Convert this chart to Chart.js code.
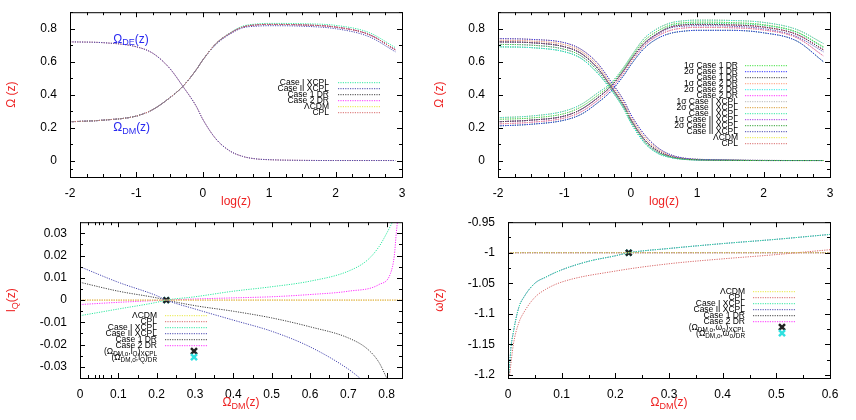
<!DOCTYPE html>
<html><head><meta charset="utf-8">
<script src="https://cdn.jsdelivr.net/npm/chart.js@4.4.1/dist/chart.umd.min.js"></script>
<style>
body{margin:0;background:#fff;width:856px;height:420px;position:relative;overflow:hidden}
.p{position:absolute;width:428px;height:210px}
</style></head><body>
<div class="p" style="left:0;top:0"><canvas id="c1"></canvas></div>
<div class="p" style="left:428px;top:0"><canvas id="c2"></canvas></div>
<div class="p" style="left:0;top:210px"><canvas id="c3"></canvas></div>
<div class="p" style="left:428px;top:210px"><canvas id="c4"></canvas></div>
<script>
// ---- panel 1 / 2: Omega(z) vs log(z)
const logZ = [-2, -1.5, -1, -0.75, -0.5, -0.3, -0.1, 0, 0.2, 0.4, 0.6, 0.8, 1, 1.5, 2, 2.5, 2.9];
const riseBase = [0.235, 0.245, 0.27, 0.31, 0.38, 0.45, 0.55, 0.61, 0.71, 0.77, 0.81, 0.823, 0.826, 0.823, 0.81, 0.765, 0.672];
const riseCaseI = [0.235, 0.245, 0.27, 0.31, 0.38, 0.45, 0.55, 0.61, 0.71, 0.772, 0.815, 0.828, 0.832, 0.83, 0.82, 0.777, 0.685];
const riseCaseII = [0.235, 0.245, 0.27, 0.31, 0.38, 0.45, 0.55, 0.61, 0.705, 0.765, 0.805, 0.815, 0.818, 0.815, 0.8, 0.752, 0.66];
const decayBase = [0.72, 0.715, 0.69, 0.65, 0.56, 0.45, 0.33, 0.25, 0.13, 0.06, 0.025, 0.01, 0.005, 0.001, 0, 0, 0];
const riseHi = [0.26, 0.27, 0.3, 0.34, 0.41, 0.47, 0.57, 0.63, 0.74, 0.8, 0.835, 0.848, 0.852, 0.85, 0.838, 0.795, 0.71];
const riseLo = [0.21, 0.22, 0.245, 0.28, 0.35, 0.42, 0.52, 0.58, 0.68, 0.74, 0.772, 0.785, 0.79, 0.79, 0.775, 0.725, 0.6];
const riseMidHi = [0.25, 0.258, 0.285, 0.325, 0.395, 0.46, 0.56, 0.62, 0.725, 0.785, 0.823, 0.836, 0.84, 0.837, 0.824, 0.78, 0.69];
const riseMidLo = [0.222, 0.232, 0.258, 0.295, 0.365, 0.435, 0.535, 0.595, 0.695, 0.755, 0.79, 0.804, 0.808, 0.806, 0.792, 0.745, 0.635];
const decayHi = [0.74, 0.735, 0.715, 0.675, 0.59, 0.48, 0.36, 0.28, 0.16, 0.08, 0.035, 0.015, 0.008, 0.003, 0.001, 0, 0];
const decayLo = [0.69, 0.685, 0.66, 0.62, 0.53, 0.43, 0.31, 0.23, 0.11, 0.045, 0.018, 0.007, 0.003, 0.001, 0, 0, 0];
const decayMidHi = [0.73, 0.725, 0.703, 0.663, 0.575, 0.465, 0.345, 0.265, 0.145, 0.07, 0.03, 0.012, 0.006, 0.002, 0, 0, 0];
const decayMidLo = [0.705, 0.7, 0.675, 0.635, 0.545, 0.44, 0.32, 0.24, 0.12, 0.052, 0.021, 0.008, 0.004, 0.001, 0, 0, 0];

// ---- panel 3: l_Q vs Omega_DM
const lqXcplIx = [0, 0.1, 0.2, 0.225, 0.3, 0.4, 0.5, 0.6, 0.7, 0.75, 0.78, 0.8, 0.815];
const lqXcplI = [-0.007, -0.004, -0.001, 0, 0.0015, 0.004, 0.006, 0.0085, 0.013, 0.018, 0.024, 0.03, 0.035];
const lqXcplIIx = [0, 0.1, 0.2, 0.225, 0.3, 0.4, 0.5, 0.6, 0.7, 0.73];
const lqXcplII = [0.015, 0.008, 0.002, 0, -0.004, -0.009, -0.014, -0.021, -0.031, -0.035];
const lqDr1x = [0, 0.1, 0.2, 0.225, 0.3, 0.4, 0.5, 0.6, 0.7, 0.75, 0.78, 0.8];
const lqDr1 = [0.008, 0.004, 0.001, 0, -0.0025, -0.005, -0.008, -0.012, -0.017, -0.022, -0.028, -0.035];
const lqDr2x = [0, 0.1, 0.225, 0.3, 0.4, 0.5, 0.6, 0.7, 0.78, 0.81, 0.82, 0.825, 0.828];
const lqDr2 = [-0.002, -0.001, 0, 0.0005, 0.001, 0.0015, 0.0025, 0.004, 0.007, 0.012, 0.02, 0.03, 0.035];
const lqFlatx = [0, 0.84];
const lqFlat = [0, 0];

// ---- panel 4: w vs Omega_DM
const wXcplx = [0.002, 0.005, 0.01, 0.02, 0.03, 0.05, 0.07, 0.1, 0.15, 0.2, 0.225, 0.3, 0.4, 0.5, 0.6];
const wXcpl = [-1.2, -1.16, -1.13, -1.09, -1.072, -1.05, -1.04, -1.028, -1.014, -1.005, -1.0, -0.993, -0.985, -0.978, -0.97];
const wCplx = [0.003, 0.01, 0.02, 0.03, 0.05, 0.07, 0.1, 0.2, 0.3, 0.4, 0.5, 0.6];
const wCpl = [-1.2, -1.15, -1.115, -1.097, -1.073, -1.06, -1.048, -1.03, -1.018, -1.01, -1.003, -0.995];
const wFlatx = [0, 0.6];
const wFlat = [-1, -1];

const presentPoint = { x: 0.225, lq: 0, w: -1 };

const C = {
  lcdm: '#e8e840', cpl: '#d86a6a', xI: '#30e8a0', xII: '#4848b0', dr1: '#404040', dr2: '#ff30ff',
  s1dr1: '#40e040', s2dr1: '#3030ff', s1dr2: '#ff9a78', s2dr2: '#30eaea', s1xI: '#b8b8b8',
  s2xI: '#d89a30', s1xII: '#a030e0', s2xII: '#30a030'
};

function pts(xs, ys) { return xs.map((x, i) => ({ x, y: ys[i] })); }
function line(xs, ys, color) {
  return { data: pts(xs, ys), borderColor: color, borderWidth: 1, borderDash: [1.2, 1.2], pointRadius: 0, cubicInterpolationMode: 'monotone', fill: false };
}
function star(x, y, color) {
  return { type: 'scatter', data: [{ x, y }], pointStyle: 'crossRot', pointRadius: 4, borderColor: color, borderWidth: 2.5, backgroundColor: color };
}
const fmt = (v) => String(+Number(v).toFixed(3));

function drawRich(ctx, parts, x, y, align, size) {
  // parts: [text, isSub]
  const sub = size * 0.75;
  const widthOf = (p) => { ctx.font = (p[1] ? sub : size) + 'px "Liberation Sans"'; return ctx.measureText(p[0]).width; };
  const total = parts.reduce((a, p) => a + widthOf(p), 0);
  let cx = align === 'right' ? x - total : align === 'center' ? x - total / 2 : x;
  parts.forEach((p) => {
    ctx.font = (p[1] ? sub : size) + 'px "Liberation Sans"';
    ctx.fillText(p[0], cx, p[1] ? y + size * 0.3 : y);
    cx += ctx.measureText(p[0]).width;
  });
}

const gnuplotFrame = {
  id: 'gnuplotFrame',
  afterDatasetsDraw(chart, args, opts) {
    const { ctx, chartArea: a, scales } = chart;
    ctx.save();
    ctx.strokeStyle = '#000';
    ctx.lineWidth = 1;
    ctx.strokeRect(a.left + 0.5, a.top + 0.5, a.right - a.left, a.bottom - a.top);
    ctx.beginPath();
    scales.x.ticks.forEach((t) => {
      const px = Math.round(scales.x.getPixelForValue(t.value)) + 0.5;
      ctx.moveTo(px, a.bottom); ctx.lineTo(px, a.bottom - 5);
      ctx.moveTo(px, a.top); ctx.lineTo(px, a.top + 5);
    });
    scales.y.ticks.forEach((t) => {
      const py = Math.round(scales.y.getPixelForValue(t.value)) + 0.5;
      ctx.moveTo(a.left, py); ctx.lineTo(a.left + 5, py);
      ctx.moveTo(a.right, py); ctx.lineTo(a.right - 5, py);
    });
    (opts.minorX || []).forEach((v) => {
      const px = Math.round(scales.x.getPixelForValue(v)) + 0.5;
      ctx.moveTo(px, a.bottom); ctx.lineTo(px, a.bottom - 3);
      ctx.moveTo(px, a.top); ctx.lineTo(px, a.top + 3);
    });
    (opts.minorY || []).forEach((v) => {
      const py = Math.round(scales.y.getPixelForValue(v)) + 0.5;
      ctx.moveTo(a.left, py); ctx.lineTo(a.left + 3, py);
      ctx.moveTo(a.right, py); ctx.lineTo(a.right - 3, py);
    });
    ctx.stroke();

    // axis titles
    ctx.fillStyle = '#ee2222';
    ctx.textBaseline = 'middle';
    drawRich(ctx, opts.xTitle, (a.left + a.right) / 2, a.bottom + 25, 'center', 12);
    ctx.save();
    ctx.translate(opts.yTitleX, (a.top + a.bottom) / 2);
    ctx.rotate(-Math.PI / 2);
    drawRich(ctx, opts.yTitle, 0, 0, 'center', 12);
    ctx.restore();

    // in-plot labels
    ctx.fillStyle = '#2a2af0';
    (opts.labels || []).forEach((l) => {
      drawRich(ctx, l.parts, scales.x.getPixelForValue(l.x), scales.y.getPixelForValue(l.y), 'left', 12);
    });

    // legend
    const L = opts.legend;
    ctx.fillStyle = '#000';
    L.items.forEach((it, i) => {
      const y = a.top + L.top + i * L.step;
      drawRich(ctx, it.parts, a.left + L.right, y, 'right', 8.5);
      if (it.star) {
        const cx = a.left + (L.sx0 + L.sx1) / 2 + 8;
        ctx.strokeStyle = it.color; ctx.lineWidth = 2.5;
        ctx.beginPath();
        ctx.moveTo(cx - 3, y - 3); ctx.lineTo(cx + 3, y + 3);
        ctx.moveTo(cx + 3, y - 3); ctx.lineTo(cx - 3, y + 3);
        ctx.stroke();
      } else {
        ctx.strokeStyle = it.color; ctx.lineWidth = 1; ctx.setLineDash([1.2, 1.2]);
        ctx.beginPath(); ctx.moveTo(a.left + L.sx0, y + 0.5); ctx.lineTo(a.left + L.sx1, y + 0.5); ctx.stroke();
        ctx.setLineDash([]);
      }
    });
    ctx.restore();
  }
};

function makeChart(id, datasets, cfg) {
  new Chart(document.getElementById(id), {
    type: 'line',
    data: { datasets },
    plugins: [gnuplotFrame],
    options: {
      responsive: true, maintainAspectRatio: false, animation: false,
      layout: { padding: { top: cfg.top, right: cfg.right, left: 0, bottom: 0 } },
      plugins: { legend: { display: false }, tooltip: { enabled: false }, gnuplotFrame: cfg.frame },
      scales: {
        x: {
          type: 'linear', min: cfg.xMin, max: cfg.xMax,
          afterBuildTicks: (s) => { s.ticks = cfg.xTicks.map((v) => ({ value: v })); },
          afterFit: (s) => { s.height = cfg.bottom; },
          grid: { display: false }, border: { display: false },
          ticks: { color: '#000', font: { size: 12, family: 'Liberation Sans' }, padding: 1, maxRotation: 0, callback: fmt }
        },
        y: {
          min: cfg.yMin, max: cfg.yMax,
          afterBuildTicks: (s) => { s.ticks = cfg.yTicks.map((v) => ({ value: v })); },
          afterFit: (s) => { s.width = cfg.left; },
          grid: { display: false }, border: { display: false },
          ticks: { color: '#000', font: { size: 12, family: 'Liberation Sans' }, padding: 5, callback: fmt }
        }
      }
    }
  });
}

const omegaTitle = [['Ω (z)', false]];
const logTitle = [['log(z)', false]];
const dmTitle = [['Ω', false], ['DM', true], ['(z)', false]];
const minorLog = [-1.75, -1.5, -1.25, -0.75, -0.5, -0.25, 0.25, 0.5, 0.75, 1.25, 1.5, 1.75, 2.25, 2.5, 2.75];
const minorOm = [-0.05, 0.1, 0.3, 0.5, 0.7, 0.9];

// panel 1
makeChart('c1', [
  line(logZ, riseBase, C.cpl), line(logZ, riseCaseI, C.xI), line(logZ, riseCaseII, C.xII),
  line(logZ, riseBase, C.dr1), line(logZ, riseBase, C.dr2), line(logZ, riseBase, C.cpl),
  line(logZ, decayBase, C.xII), line(logZ, decayBase, C.cpl)
], {
  top: 12, right: 26, left: 70, bottom: 33, xMin: -2, xMax: 3, yMin: -0.1, yMax: 0.9,
  xTicks: [-2, -1, 0, 1, 2, 3], yTicks: [0, 0.2, 0.4, 0.6, 0.8],
  frame: {
    xTitle: logTitle, yTitle: omegaTitle, yTitleX: 12, minorX: minorLog, minorY: minorOm,
    labels: [
      { x: -1.35, y: 0.735, parts: [['Ω', false], ['DE', true], ['(z)', false]] },
      { x: -1.35, y: 0.2, parts: [['Ω', false], ['DM', true], ['(z)', false]] }
    ],
    legend: {
      right: 259, top: 70, step: 6, sx0: 268, sx1: 310, items: [
        { parts: [['Case I XCPL', false]], color: C.xI }, { parts: [['Case II XCPL', false]], color: C.xII },
        { parts: [['Case 1 DR', false]], color: C.dr1 }, { parts: [['Case 2 DR', false]], color: C.dr2 },
        { parts: [['ΛCDM', false]], color: C.lcdm }, { parts: [['CPL', false]], color: C.cpl }
      ]
    }
  }
});

// panel 2
const p2 = [
  ['1σ Case 1 DR', C.s1dr1, riseMidHi, decayMidLo], ['2σ Case 1 DR', C.s2dr1, riseLo, decayHi],
  ['Case 1 DR', C.dr1, riseBase, decayBase], ['1σ Case 2 DR', C.s1dr2, riseMidLo, decayMidHi],
  ['2σ Case 2 DR', C.s2dr2, riseHi, decayLo], ['Case 2 DR', C.dr2, riseBase, decayBase],
  ['1σ Case I XCPL', C.s1xI, riseMidHi, decayMidHi], ['2σ Case I XCPL', C.s2xI, riseHi, decayHi],
  ['Case I XCPL', C.xI, riseCaseI, decayBase], ['1σ Case II XCPL', C.s1xII, riseMidLo, decayMidLo],
  ['2σ Case II XCPL', C.s2xII, riseLo, decayLo], ['Case II XCPL', C.xII, riseCaseII, decayBase],
  ['ΛCDM', C.lcdm, riseBase, decayBase], ['CPL', C.cpl, riseBase, decayBase]
];
makeChart('c2', p2.flatMap((r) => [line(logZ, r[2], r[1]), line(logZ, r[3], r[1])]), {
  top: 12, right: 26, left: 70, bottom: 33, xMin: -2, xMax: 3, yMin: -0.1, yMax: 0.9,
  xTicks: [-2, -1, 0, 1, 2, 3], yTicks: [0, 0.2, 0.4, 0.6, 0.8],
  frame: {
    xTitle: logTitle, yTitle: omegaTitle, yTitleX: 12, minorX: minorLog, minorY: minorOm,
    legend: {
      right: 240, top: 53, step: 6, sx0: 247, sx1: 290,
      items: p2.map((r) => ({ parts: [[r[0], false]], color: r[1] }))
    }
  }
});

// panel 3
makeChart('c3', [
  line(lqFlatx, lqFlat, C.lcdm), line(lqFlatx, lqFlat, C.cpl),
  line(lqXcplIx, lqXcplI, C.xI), line(lqXcplIIx, lqXcplII, C.xII),
  line(lqDr1x, lqDr1, C.dr1), line(lqDr2x, lqDr2, C.dr2),
  star(presentPoint.x, presentPoint.lq, '#222'), star(presentPoint.x, presentPoint.lq, '#30e0e0')
], {
  top: 12, right: 26, left: 80, bottom: 42, xMin: 0, xMax: 0.84, yMin: -0.035, yMax: 0.035,
  xTicks: [0, 0.1, 0.2, 0.3, 0.4, 0.5, 0.6, 0.7, 0.8], yTicks: [-0.03, -0.02, -0.01, 0, 0.01, 0.02, 0.03],
  frame: {
    xTitle: dmTitle, yTitle: [['l', false], ['Q', true], ['(z)', false]], yTitleX: 12,
    minorX: [0.05, 0.15, 0.25, 0.35, 0.45, 0.55, 0.65, 0.75, 0.02, 0.04, 0.06, 0.08],
    minorY: [-0.025, -0.015, -0.005, 0.005, 0.015, 0.025],
    legend: {
      right: 77, top: 93, step: 6, sx0: 85, sx1: 127, items: [
        { parts: [['ΛCDM', false]], color: C.lcdm }, { parts: [['CPL', false]], color: C.cpl },
        { parts: [['Case I XCPL', false]], color: C.xI }, { parts: [['Case II XCPL', false]], color: C.xII },
        { parts: [['Case 1 DR', false]], color: C.dr1 }, { parts: [['Case 2 DR', false]], color: C.dr2 },
        { parts: [['(Ω', false], ['DM,o', true], [',l', false], ['Q', true], [')', false], ['XCPL', true]], color: '#222', star: true },
        { parts: [['(Ω', false], ['DM,o', true], [',l', false], ['Q', true], [')', false], ['DR', true]], color: '#30e0e0', star: true }
      ]
    }
  }
});

// panel 4
makeChart('c4', [
  line(wFlatx, wFlat, C.lcdm), line(wCplx, wCpl, C.cpl),
  line(wXcplx, wXcpl, C.xI), line(wXcplx, wXcpl, C.xII),
  line(wFlatx, wFlat, C.dr1), line(wFlatx, wFlat, C.dr2),
  star(presentPoint.x, presentPoint.w, '#222'), star(presentPoint.x, presentPoint.w, '#30e0e0')
], {
  top: 12, right: 26, left: 80, bottom: 42, xMin: 0, xMax: 0.6, yMin: -1.205, yMax: -0.95,
  xTicks: [0, 0.1, 0.2, 0.3, 0.4, 0.5, 0.6], yTicks: [-1.2, -1.15, -1.1, -1.05, -1, -0.95],
  frame: {
    xTitle: dmTitle, yTitle: [['ω(z)', false]], yTitleX: 12,
    minorX: [0.05, 0.15, 0.25, 0.35, 0.45, 0.55],
    minorY: [-1.175, -1.125, -1.075, -1.025, -0.975],
    legend: {
      right: 237, top: 69, step: 6, sx0: 245, sx1: 287, items: [
        { parts: [['ΛCDM', false]], color: C.lcdm }, { parts: [['CPL', false]], color: C.cpl },
        { parts: [['Case I XCPL', false]], color: C.xI }, { parts: [['Case II XCPL', false]], color: C.xII },
        { parts: [['Case 1 DR', false]], color: C.dr1 }, { parts: [['Case 2 DR', false]], color: C.dr2 },
        { parts: [['(Ω', false], ['DM,o', true], [',ω', false], ['o', true], [')', false], ['XCPL', true]], color: '#222', star: true },
        { parts: [['(Ω', false], ['DM,o', true], [',ω', false], ['o', true], [')', false], ['DR', true]], color: '#30e0e0', star: true }
      ]
    }
  }
});
</script>
</body></html>
